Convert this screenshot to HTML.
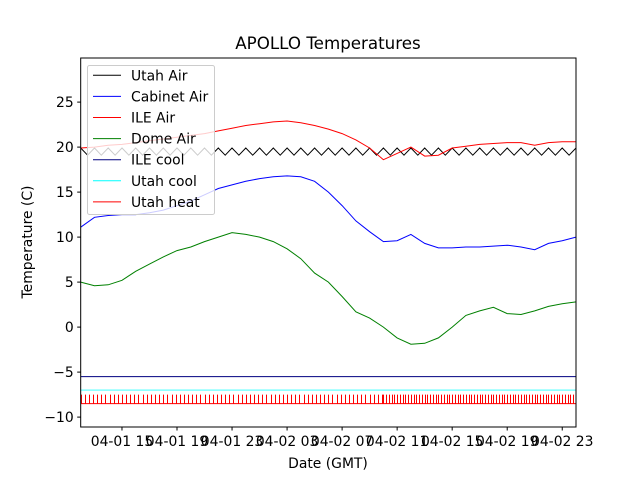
<!DOCTYPE html>
<html><head><meta charset="utf-8"><style>
body{margin:0;background:#fff}
svg text{font-family:"DejaVu Sans","Liberation Sans",sans-serif;fill:#000}
</style></head><body>
<svg id="chart" width="640" height="480" viewBox="0 0 640 480" xmlns="http://www.w3.org/2000/svg">
<rect width="640" height="480" fill="#fff"/>
<text x="328" y="49" font-size="16.7" text-anchor="middle">APOLLO Temperatures</text>
<text x="0" y="0" font-size="13.9" text-anchor="middle" transform="translate(32,242) rotate(-90)">Temperature (C)</text>
<text x="328" y="468" font-size="13.9" text-anchor="middle">Date (GMT)</text>
<g id="series"></g>
<g id="axes"></g>
<g id="legend"></g>
</svg>
<script>
// hours since 04-01 12:00, hourly samples 0..36
const utahAirHalfHourly = [19.9,19.1,19.9,19.1,19.9,19.1,19.9,19.1,19.9,19.1,19.9,19.1,19.9,19.1,19.9,19.1,19.9,19.1,19.9,19.1,19.9,19.1,19.9,19.1,19.9,19.1,19.9,19.1,19.9,19.1,19.9,19.1,19.9,19.1,19.9,19.1,19.9,19.1,19.9,19.1,19.9,19.1,19.9,19.1,19.9,19.1,19.9,19.1,19.9,19.1,19.9,19.1,19.9,19.1,19.9,19.1,19.9,19.1,19.9,19.1,19.9,19.1,19.9,19.1,19.9,19.1,19.9,19.1,19.9,19.1,19.9,19.1,19.9];
const cabinetAir = [11.1,12.2,12.4,12.5,12.5,12.7,13.0,13.5,14.0,14.7,15.4,15.8,16.2,16.5,16.7,16.8,16.7,16.2,15.0,13.5,11.8,10.6,9.5,9.6,10.3,9.3,8.8,8.8,8.9,8.9,9.0,9.1,8.9,8.6,9.3,9.6,10.0];
const ileAir = [19.9,20.0,20.2,20.3,20.5,20.7,20.9,21.1,21.3,21.5,21.8,22.1,22.4,22.6,22.8,22.9,22.7,22.4,22.0,21.5,20.8,19.9,18.6,19.3,20.0,19.0,19.1,19.9,20.1,20.3,20.4,20.5,20.5,20.2,20.5,20.6,20.6];
const domeAir = [5.0,4.6,4.7,5.2,6.2,7.0,7.8,8.5,8.9,9.5,10.0,10.5,10.3,10.0,9.5,8.7,7.6,6.0,5.0,3.4,1.7,1.0,0.0,-1.2,-1.9,-1.8,-1.2,0.0,1.3,1.8,2.2,1.5,1.4,1.8,2.3,2.6,2.8];
const ileCool = -5.5;
const utahCool = -7.0;
const heatLow = -8.5, heatHigh = -7.5;
const heatSegments = [[0,22,0.3],[22,36,0.2]]; // [start h, end h, cycle period h]
const yTicks = [-10,-5,0,5,10,15,20,25];
const xTickHours = [3,7,11,15,19,23,27,31,35];
const xTickLabels = ["04-01 15","04-01 19","04-01 23","04-02 03","04-02 07","04-02 11","04-02 15","04-02 19","04-02 23"];
const legendLabels = ["Utah Air","Cabinet Air","ILE Air","Dome Air","ILE cool","Utah cool","Utah heat"];
const legendColors = ["#000","#0000ff","#ff0000","#008000","#000080","#00ffff","#ff0000"];

const NS="http://www.w3.org/2000/svg";
const L=80.7,R=576,T=58,B=427;
const X0=0,X1=36,Y0=-11.1,Y1=29.9;
const sx=h=>L+(h-X0)/(X1-X0)*(R-L);
const sy=v=>B-(v-Y0)/(Y1-Y0)*(B-T);
function mk(tag,attrs,parent){const e=document.createElementNS(NS,tag);for(const k in attrs)e.setAttribute(k,attrs[k]);parent.appendChild(e);return e;}
const S=document.getElementById('series'),A=document.getElementById('axes'),G=document.getElementById('legend');

function poly(vals,step,color,name){
  const pts=vals.map((v,i)=>sx(i*step).toFixed(1)+","+sy(v).toFixed(1)).join(" ");
  const p=mk('polyline',{points:pts,fill:'none',stroke:color,'stroke-width':1},S);
  
  
}
poly(utahAirHalfHourly,0.5,'#000','utah-air-line');
poly(cabinetAir,1,'#0000ff','cabinet-air-line');
poly(ileAir,1,'#ff0000','ile-air-line');
poly(domeAir,1,'#008000','dome-air-line');
let l1=mk('line',{x1:sx(X0),x2:sx(X1),y1:sy(ileCool),y2:sy(ileCool),stroke:'#000080','stroke-width':1},S);


let l2=mk('line',{x1:sx(X0),x2:sx(X1),y1:sy(utahCool),y2:sy(utahCool),stroke:'#7fffff','stroke-width':1.5},S);


let hp="";
heatSegments.forEach(([a,b,p])=>{for(let t=a;t<b;t+=p){const x=Math.round(sx(t))+0.5;hp+=`M${x},${sy(heatLow).toFixed(1)}V${sy(heatHigh).toFixed(1)}`;}});
hp+=`M${sx(X0)},${sy(heatLow)}H${sx(X1)}`;
let hpth=mk('path',{d:hp,fill:'none',stroke:'#ff0000','stroke-width':1},S);



let fr=mk('rect',{x:L,y:T,width:R-L,height:B-T,fill:'none',stroke:'#000','stroke-width':1},A);


yTicks.forEach(v=>{
  mk('line',{x1:L-3.5,x2:L,y1:sy(v),y2:sy(v),stroke:'#000'},A);
  const t=mk('text',{x:L-7,y:sy(v)+5,'font-size':13.9,'text-anchor':'end'},A);
  t.textContent=String(v).replace('-','\u2212');
  
  
});
xTickHours.forEach((h,i)=>{
  mk('line',{x1:sx(h),x2:sx(h),y1:B,y2:B+3.5,stroke:'#000'},A);
  const t=mk('text',{x:sx(h),y:B+19,'font-size':13.9,'text-anchor':'middle'},A);
  t.textContent=xTickLabels[i];
  
  
});

let lb=mk('rect',{x:87.5,y:65.5,width:127,height:149,rx:2,fill:'rgba(255,255,255,0.8)',stroke:'#ccc'},G);


legendLabels.forEach((lab,i)=>{
  const y=75.3+i*21.1;
  const ln=mk('line',{x1:93,x2:121,y1:y,y2:y,stroke:legendColors[i],'stroke-width':1},G);
  
  
  const t=mk('text',{x:131,y:y+5,'font-size':13.9},G);
  t.textContent=lab;
  
  
});
</script>
</body></html>
